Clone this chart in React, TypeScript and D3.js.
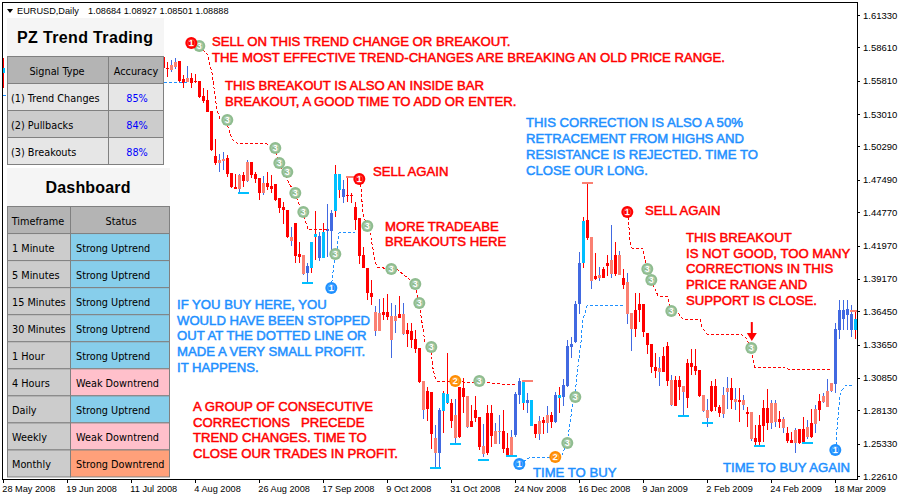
import * as d3 from 'd3';

const WIDTH = 900;
const HEIGHT = 500;

// price axis as printed on the right
const priceTicks = [
  1.6133, 1.5861, 1.5581, 1.5301, 1.5029, 1.4749, 1.4477, 1.4197, 1.3917, 1.3645, 1.3365, 1.3085,
  1.2813, 1.2533, 1.2261,
];

// one date label every 16 bars
const dateTicks = [
  '28 May 2008', '19 Jun 2008', '11 Jul 2008', '4 Aug 2008', '26 Aug 2008', '17 Sep 2008',
  '9 Oct 2008', '31 Oct 2008', '24 Nov 2008', '16 Dec 2008', '9 Jan 2009', '2 Feb 2009',
  '24 Feb 2009', '18 Mar 2009',
];

// bars 1-39 sit behind the panels, only bar 0 peeks out on the left
const barIndex = [0, ...d3.range(40, 214)];

// R down bar in downtrend, S up bar in downtrend, B up bar in uptrend, K down bar in uptrend
const barState =
  'K' +
  'RRSSRRSRRR' + 'RRRRSSRRRS' + 'RSRRRSRRRR' + 'RRSRRSBKKB' + 'KBBKKBRRRR' +
  'RRRSSRRSSR' + 'SRRRRSRRSB' + 'KKRSRRSRRR' + 'SRRSSRRSBB' + 'KBKRSRSRBK' +
  'BBBBBKRSRS' + 'RRSRSRSSRR' + 'RRRRSRRSRR' + 'SRRRRSSRRR' + 'SSRSRSRSRR' +
  'RRSSRSRRSR' + 'RSRSRSSSBB' + 'BBBKKKB';

const barHigh = [
  1.5772,
  1.578, 1.5738, 1.5755, 1.5772, 1.5747, 1.5629, 1.5705, 1.5646, 1.5637, 1.5579,
  1.552, 1.5503, 1.5327, 1.5091, 1.4965, 1.4982, 1.4957, 1.4806, 1.4797, 1.4797,
  1.4814, 1.4915, 1.4898, 1.4814, 1.4764, 1.4781, 1.4814, 1.4789, 1.4713, 1.4596,
  1.4562, 1.4495, 1.4352, 1.4386, 1.4226, 1.4117, 1.405, 1.4226, 1.4487, 1.431,
  1.4386, 1.4545, 1.4495, 1.4873, 1.4797, 1.4747, 1.4772, 1.4638, 1.4562, 1.4428,
  1.4184, 1.4008, 1.3907, 1.3689, 1.3747, 1.3756, 1.3789, 1.3714, 1.3697, 1.3773,
  1.3714, 1.3546, 1.3546, 1.3487, 1.3336, 1.3059, 1.3008, 1.2966, 1.2689, 1.2832,
  1.2975, 1.3294, 1.2907, 1.2907, 1.3008, 1.3084, 1.2933, 1.2857, 1.2933, 1.2756,
  1.2697, 1.2857, 1.2857, 1.2706, 1.2773, 1.2815, 1.2622, 1.2647, 1.2966, 1.3084,
  1.3067, 1.2958, 1.2899, 1.2697, 1.2765, 1.2756, 1.2848, 1.2798, 1.2966, 1.3008,
  1.3075, 1.3403, 1.3428, 1.3731, 1.4142, 1.4436, 1.4722, 1.4268, 1.4134, 1.4016,
  1.4016, 1.4117, 1.4369, 1.4226, 1.4151, 1.3999, 1.3966, 1.363, 1.3798, 1.3798,
  1.3705, 1.3462, 1.3369, 1.3294, 1.326, 1.3344, 1.3386, 1.3109, 1.3101, 1.3101,
  1.3017, 1.3243, 1.3327, 1.3327, 1.3151, 1.2941, 1.2907, 1.3059, 1.3075, 1.2857,
  1.3008, 1.3092, 1.3084, 1.3, 1.3, 1.2941, 1.284, 1.2798, 1.2689, 1.2773,
  1.2899, 1.2991, 1.2899, 1.2899, 1.2807, 1.2756, 1.2672, 1.263, 1.2664, 1.2655,
  1.2756, 1.2731, 1.2823, 1.2857, 1.2949, 1.2958, 1.3075, 1.3042, 1.3546, 1.3739,
  1.3739, 1.3739, 1.3697, 1.3655,
];

const bodyTop = [
  1.5688,
  1.578, 1.5688, 1.5713, 1.5738, 1.5747, 1.5595, 1.5604, 1.5604, 1.5579, 1.5579,
  1.5453, 1.5419, 1.5327, 1.4949, 1.4915, 1.4923, 1.4932, 1.4806, 1.4688, 1.4789,
  1.4789, 1.4898, 1.4898, 1.4797, 1.4764, 1.4722, 1.4722, 1.4697, 1.4713, 1.4596,
  1.452, 1.4495, 1.4268, 1.4386, 1.4125, 1.4117, 1.4025, 1.4226, 1.4293, 1.4277,
  1.431, 1.4335, 1.447, 1.4797, 1.4797, 1.4671, 1.4621, 1.4621, 1.452, 1.4428,
  1.4117, 1.4008, 1.3798, 1.3638, 1.363, 1.3638, 1.3638, 1.3604, 1.3604, 1.3621,
  1.3621, 1.3487, 1.3479, 1.3411, 1.3336, 1.3059, 1.2975, 1.2966, 1.258, 1.2815,
  1.2958, 1.2949, 1.2874, 1.2773, 1.3008, 1.3, 1.2933, 1.2723, 1.2815, 1.2756,
  1.2512, 1.279, 1.279, 1.2639, 1.2639, 1.2639, 1.2496, 1.2588, 1.2949, 1.3059,
  1.3059, 1.2899, 1.2899, 1.2697, 1.2723, 1.2731, 1.2773, 1.2773, 1.2941, 1.2941,
  1.3025, 1.3353, 1.3369, 1.3705, 1.405, 1.4403, 1.4411, 1.4268, 1.3941, 1.3949,
  1.4, 1.405, 1.4075, 1.4117, 1.4117, 1.3924, 1.389, 1.363, 1.3655, 1.3705,
  1.3705, 1.3462, 1.3369, 1.3176, 1.3168, 1.3269, 1.3353, 1.3067, 1.3067, 1.3067,
  1.3017, 1.321, 1.321, 1.3185, 1.3151, 1.2941, 1.2815, 1.3017, 1.3017, 1.284,
  1.2941, 1.3, 1.3, 1.2907, 1.2899, 1.2899, 1.2798, 1.2798, 1.258, 1.2689,
  1.2832, 1.2832, 1.2874, 1.2874, 1.2739, 1.2739, 1.2622, 1.2563, 1.2647, 1.2655,
  1.2655, 1.2672, 1.2706, 1.2823, 1.2891, 1.2933, 1.2975, 1.3042, 1.3495, 1.3655,
  1.3655, 1.3663, 1.3621, 1.358,
];

const bodyBottom = [
  1.5646,
  1.5688, 1.5679, 1.5671, 1.5696, 1.5579, 1.5562, 1.557, 1.5562, 1.557, 1.5444,
  1.5411, 1.5318, 1.4999, 1.489, 1.489, 1.4907, 1.4797, 1.4688, 1.4671, 1.4671,
  1.4739, 1.4739, 1.4789, 1.4755, 1.4638, 1.4638, 1.4688, 1.4671, 1.4579, 1.4512,
  1.4495, 1.4268, 1.4235, 1.4109, 1.41, 1.3957, 1.3966, 1.4008, 1.4268, 1.4092,
  1.4092, 1.4319, 1.4319, 1.4487, 1.4663, 1.4604, 1.4613, 1.4613, 1.4411, 1.4109,
  1.4008, 1.3798, 1.3764, 1.3479, 1.3479, 1.3613, 1.3596, 1.3403, 1.3563, 1.3588,
  1.3453, 1.3453, 1.3403, 1.3327, 1.305, 1.2815, 1.2823, 1.2613, 1.2454, 1.2454,
  1.2807, 1.2874, 1.2723, 1.258, 1.2588, 1.2924, 1.2672, 1.2672, 1.2748, 1.2504,
  1.2445, 1.2454, 1.2597, 1.2529, 1.263, 1.2487, 1.2437, 1.2437, 1.2605, 1.2941,
  1.2874, 1.2874, 1.2681, 1.2613, 1.2613, 1.2706, 1.2706, 1.2714, 1.2714, 1.2916,
  1.2924, 1.3017, 1.3344, 1.3386, 1.3705, 1.405, 1.426, 1.3899, 1.3915, 1.3924,
  1.3924, 1.4025, 1.3957, 1.3957, 1.3949, 1.3865, 1.3621, 1.3495, 1.3495, 1.3655,
  1.347, 1.3361, 1.3176, 1.3143, 1.3134, 1.3134, 1.3059, 1.2857, 1.2849, 1.3008,
  1.2966, 1.2916, 1.3176, 1.3143, 1.2933, 1.2807, 1.2748, 1.2807, 1.284, 1.279,
  1.2781, 1.2966, 1.2899, 1.2882, 1.2882, 1.2857, 1.2781, 1.2571, 1.2546, 1.2546,
  1.2681, 1.2706, 1.2706, 1.2714, 1.2714, 1.2664, 1.2555, 1.2538, 1.2538, 1.2538,
  1.2538, 1.2588, 1.2588, 1.2697, 1.2815, 1.2882, 1.284, 1.2975, 1.3033, 1.3487,
  1.358, 1.3613, 1.3487, 1.3487,
];

const barLow = [
  1.552,
  1.5671, 1.5612, 1.5654, 1.5679, 1.5562, 1.552, 1.557, 1.552, 1.5562, 1.5436,
  1.5394, 1.5318, 1.4991, 1.4873, 1.4814, 1.4831, 1.4772, 1.468, 1.4671, 1.4629,
  1.4688, 1.473, 1.4764, 1.4722, 1.4579, 1.4621, 1.4663, 1.4638, 1.4571, 1.447,
  1.4377, 1.426, 1.4193, 1.405, 1.405, 1.3949, 1.3882, 1.3966, 1.4075, 1.4067,
  1.4092, 1.41, 1.4159, 1.4436, 1.4596, 1.4554, 1.4562, 1.4554, 1.4327, 1.4041,
  1.4008, 1.3739, 1.3697, 1.3437, 1.3479, 1.3571, 1.3571, 1.3252, 1.3462, 1.3588,
  1.3445, 1.3344, 1.3336, 1.3294, 1.3042, 1.2739, 1.2723, 1.2487, 1.2328, 1.2328,
  1.2622, 1.2866, 1.2664, 1.2538, 1.258, 1.279, 1.2664, 1.2672, 1.2714, 1.2479,
  1.242, 1.2437, 1.2504, 1.2529, 1.2529, 1.2454, 1.2429, 1.242, 1.2588, 1.2866,
  1.2815, 1.279, 1.2681, 1.258, 1.2563, 1.2613, 1.2622, 1.2664, 1.2706, 1.279,
  1.2849, 1.3008, 1.3252, 1.3378, 1.3621, 1.4008, 1.4243, 1.3831, 1.3907, 1.3899,
  1.3924, 1.3941, 1.3924, 1.3941, 1.3949, 1.3831, 1.3537, 1.3311, 1.3428, 1.3554,
  1.3428, 1.3285, 1.3126, 1.3084, 1.3017, 1.3134, 1.3017, 1.2849, 1.2849, 1.2899,
  1.2756, 1.2832, 1.3109, 1.3109, 1.2924, 1.2798, 1.2672, 1.2798, 1.2807, 1.2756,
  1.2748, 1.2823, 1.2823, 1.2815, 1.2714, 1.2815, 1.2672, 1.2555, 1.2504, 1.2512,
  1.2546, 1.2647, 1.2655, 1.2672, 1.2664, 1.2622, 1.2538, 1.2538, 1.2454, 1.2529,
  1.2538, 1.2571, 1.258, 1.2622, 1.2723, 1.2874, 1.284, 1.2966, 1.2958, 1.3411,
  1.3487, 1.3487, 1.3428, 1.3411,
];

// the dotted trailing stops, bar positions and prices
const sellStopBarsA = [48.9, 51.2, 51.4, 52.2, 53.4, 54.2, 55.9, 56.2, 57.2, 58.2, 66.4, 67.9, 68.9, 71.4, 72.9, 73.7, 74.9, 75.7, 76.2, 81.4];
const sellStopA = [1.5873, 1.5797, 1.5738, 1.5646, 1.5335, 1.5259, 1.5251, 1.5192, 1.5091, 1.5058, 1.5049, 1.5016, 1.489, 1.4722, 1.4638, 1.4562, 1.4478, 1.4386, 1.4335, 1.4335];
const sellStopBarsB = [89, 89.4, 89.9, 90.9, 91.7, 92.9, 93.4, 96.9, 98.4, 102.9, 103.9, 104.7, 105.4, 106.9, 107.4, 107.9, 108.4, 121.7, 127.9];
const sellStopB = [1.4755, 1.4688, 1.447, 1.4361, 1.4302, 1.4075, 1.4016, 1.3999, 1.3999, 1.3873, 1.3714, 1.3546, 1.3386, 1.3344, 1.3168, 1.3092, 1.3059, 1.3042, 1.3025];
const sellStopBarsC = [155.9, 156.2, 156.7, 157.2, 159.9, 160.4, 160.9, 161.9, 163.7, 166.2, 166.9, 168.7, 169.9, 174.2, 174.7, 175.9, 184.9, 185.7, 186.9, 187.4, 187.9, 195.4, 196.2, 206.7];
const sellStopC = [1.4478, 1.4436, 1.4226, 1.4176, 1.4176, 1.4075, 1.3999, 1.3907, 1.3773, 1.3764, 1.3647, 1.363, 1.3579, 1.3579, 1.3512, 1.3453, 1.3445, 1.342, 1.3336, 1.326, 1.3176, 1.3176, 1.3159, 1.3159];

const buyStopBarsA = [0, 1];
const buyStopA = [1.5453, 1.5453];
const buyStopBarsB = [40.2, 46];
const buyStopB = [1.557, 1.557];
const buyStopBarsC = [81.9, 82.2, 82.7, 82.9, 83.4, 83.9, 87.9];
const buyStopC = [1.384, 1.3907, 1.405, 1.4125, 1.4159, 1.4302, 1.431];
const buyStopBarsD = [128.9, 130.7, 131.7, 136.7, 137.9, 139.7, 140.9, 141.7, 142.4, 142.9, 143.7, 144.4, 144.9, 145.9, 154.9];
const buyStopD = [1.2361, 1.2395, 1.242, 1.242, 1.242, 1.2437, 1.2538, 1.2706, 1.2899, 1.2941, 1.3193, 1.3378, 1.3571, 1.3689, 1.3689];
const buyStopBarsE = [207.9, 208.2, 208.4, 209.2, 209.7, 210.4, 212.4];
const buyStopE = [1.2479, 1.2521, 1.2647, 1.2941, 1.2983, 1.3017, 1.3017];

// numbered signals
const breakoutBars = [49, 56, 68, 69, 71, 73, 75, 83, 91, 97, 103, 104, 107, 119, 141, 143, 161, 162, 167, 187];
const breakoutPrices = [1.5873, 1.5251, 1.5016, 1.489, 1.4814, 1.4638, 1.4478, 1.4125, 1.4361, 1.3999, 1.3873, 1.3714, 1.3344, 1.3059, 1.2538, 1.2924, 1.3999, 1.3907, 1.3647, 1.3336];
const pullbackBars = [113, 138];
const pullbackPrices = [1.3059, 1.242];
const buySignalBars = [82, 129, 208];
const buySignalPrices = [1.384, 1.2361, 1.2479];
const sellSignalBars = [47, 89, 156];
const sellSignalPrices = [1.5898, 1.4755, 1.4478];

// little caps at swing lows and highs
const lowCapBars = [60, 76, 108, 113, 120, 127, 170, 176, 189, 201];
const lowCapPrices = [1.4638, 1.3882, 1.2328, 1.2529, 1.2395, 1.2429, 1.2765, 1.2706, 1.2512, 1.2538];
const highCapBars = [87, 131, 146, 213];
const highCapPrices = [1.4772, 1.3059, 1.4722, 1.3647];

const signalTypes = ['(1) Trend Changes', '(2) Pullbacks', '(3) Breakouts'];
const signalAccuracy = ['85%', '84%', '88%'];
const timeframes = ['1 Minute', '5 Minutes', '15 Minutes', '30 Minutes', '1 Hour', '4 Hours', 'Daily', 'Weekly', 'Monthly'];
const timeframeStatus = [
  'Strong Uptrend', 'Strong Uptrend', 'Strong Uptrend', 'Strong Uptrend', 'Strong Uptrend',
  'Weak Downtrend', 'Strong Uptrend', 'Weak Downtrend', 'Strong Downtrend',
];

const RED = '#ff0000';
const SALMON = '#fa8072';
const ROYAL = '#4169e1';
const SKY = '#00bfff';
const NOTE_BLUE = '#1e90ff';
const GREEN = '#8fbc8f';
const ORANGE = '#ff8c00';
const GRID = '#808080';

const bodyColor: Record<string, string> = { R: RED, S: SALMON, B: ROYAL, K: SKY };
const wickColor: Record<string, string> = { R: RED, S: ROYAL, B: ROYAL, K: RED };
const statusColor: Record<string, string> = {
  'Strong Uptrend': '#87ceeb',
  'Weak Downtrend': '#ffc0cb',
  'Strong Downtrend': '#ffa07a',
};

const UI_FONT = '"DejaVu Sans Condensed", "DejaVu Sans", sans-serif';
const AXIS_FONT = '"Liberation Sans", sans-serif';

const x = d3.scaleLinear().domain([0, 213]).range([3.3, 855.3]);
const y = d3.scaleLinear().domain([1.2261, 1.6133]).range([476, 15]);

const stopPath = (bars: number[], prices: number[]) =>
  d3.line<number>()
    .x((b) => x(b))
    .y((_, i) => y(prices[i]))(bars) ?? '';

const Note = ({ left, top, color, lines, gap = 15.7 }: { left: number; top: number; color: string; lines: string[]; gap?: number }) => (
  <g fontFamily={AXIS_FONT} fontSize={13.15} fill={color} stroke={color} strokeWidth={0.5}>
    {lines.map((line, i) => (
      <text key={i} x={left} y={top + i * gap} style={{ whiteSpace: 'pre' }}>
        {line}
      </text>
    ))}
  </g>
);

const Signal = ({ bar, price, color, label }: { bar: number; price: number; color: string; label: string }) => (
  <g transform={`translate(${x(bar)},${y(price)})`}>
    <circle r={6} fill={color} />
    <circle r={3.6} fill="none" stroke="#fff" strokeWidth={0.5} opacity={0.5} />
    <text textAnchor="middle" y={3.3} fontSize={9} fontWeight="bold" fontFamily={AXIS_FONT} fill="#fff">
      {label}
    </text>
  </g>
);

const Cell = ({ x0, y0, w, h, fill }: { x0: number; y0: number; w: number; h: number; fill: string }) => (
  <rect x={x0 + 0.5} y={y0 + 0.5} width={w} height={h} fill={fill} stroke={GRID} strokeWidth={1} />
);

const SignalPanel = () => {
  const rowY = d3.scaleLinear().domain([0, 4]).range([56, 164]);
  return (
    <g fontFamily={UI_FONT} fontSize={10.8} fill="#000">
      <rect x={7} y={18} width={157} height={38} fill="#f5f5f5" />
      <text x={85} y={43} textAnchor="middle" fontFamily={AXIS_FONT} fontWeight="bold" fontSize={16} textLength={136} lengthAdjust="spacing">
        PZ Trend Trading
      </text>
      <Cell x0={7} y0={rowY(0)} w={101} h={27} fill="#b4b4b4" />
      <Cell x0={108} y0={rowY(0)} w={55} h={27} fill="#b4b4b4" />
      <text x={57} y={rowY(0) + 18.5} textAnchor="middle">Signal Type</text>
      <text x={136} y={rowY(0) + 18.5} textAnchor="middle">Accuracy</text>
      {signalTypes.map((name, i) => {
        const fill = i % 2 === 0 ? '#e6e6e6' : '#cccccc';
        const top = rowY(i + 1);
        return (
          <g key={name}>
            <Cell x0={7} y0={top} w={101} h={27} fill={fill} />
            <Cell x0={108} y0={top} w={55} h={27} fill={fill} />
            <text x={11} y={top + 18.5}>{name}</text>
            <text x={137} y={top + 18.5} textAnchor="middle" fill="#0000ff">{signalAccuracy[i]}</text>
          </g>
        );
      })}
    </g>
  );
};

const DashboardPanel = () => {
  const rowY = d3.scaleLinear().domain([0, 10]).range([206, 476.5]);
  return (
    <g fontFamily={UI_FONT} fontSize={10.8} fill="#000">
      <rect x={7} y={168} width={163} height={38} fill="#f5f5f5" />
      <text x={88} y={193} textAnchor="middle" fontFamily={AXIS_FONT} fontWeight="bold" fontSize={16} textLength={85} lengthAdjust="spacing">
        Dashboard
      </text>
      <Cell x0={7} y0={rowY(0)} w={63} h={27} fill="#b4b4b4" />
      <Cell x0={70} y0={rowY(0)} w={99} h={27} fill="#b4b4b4" />
      <text x={38} y={rowY(0) + 18.5} textAnchor="middle">Timeframe</text>
      <text x={121} y={rowY(0) + 18.5} textAnchor="middle">Status</text>
      {timeframes.map((name, i) => {
        const top = rowY(i + 1);
        return (
          <g key={name}>
            <Cell x0={7} y0={top} w={63} h={27} fill="#cccccc" />
            <Cell x0={70} y0={top} w={99} h={27} fill={statusColor[timeframeStatus[i]]} />
            <text x={12} y={top + 18.5}>{name}</text>
            <text x={76} y={top + 18.5}>{timeframeStatus[i]}</text>
          </g>
        );
      })}
    </g>
  );
};

export default function App() {
  return (
    <svg
      width={WIDTH}
      height={HEIGHT}
      viewBox={`0 0 ${WIDTH} ${HEIGHT}`}
      style={{ position: 'fixed', left: 0, top: 0, background: '#fff' }}
    >
      <defs>
        <clipPath id="plot">
          <rect x={3} y={3} width={854} height={476} />
        </clipPath>
      </defs>

      <g clipPath="url(#plot)" shapeRendering="crispEdges">
        {barIndex.map((bar, i) => {
          const state = barState[i];
          const cx = Math.floor(x(bar));
          const bodyH = Math.max(1, y(bodyBottom[i]) - y(bodyTop[i]));
          return (
            <g key={bar}>
              <rect x={cx} y={y(barHigh[i])} width={1} height={y(barLow[i]) - y(barHigh[i])} fill={wickColor[state]} />
              <rect x={cx - 1} y={y(bodyTop[i])} width={3} height={bodyH} fill={bodyColor[state]} />
            </g>
          );
        })}
        {lowCapBars.map((bar, i) => (
          <rect key={bar} x={Math.floor(x(bar)) - 5} y={y(lowCapPrices[i]) - 1} width={11} height={2} fill={SKY} />
        ))}
        {highCapBars.map((bar, i) => (
          <rect key={bar} x={Math.floor(x(bar)) - 5} y={y(highCapPrices[i]) - 1} width={11} height={2} fill={SALMON} />
        ))}
      </g>

      <g clipPath="url(#plot)" fill="none" strokeWidth={1} strokeDasharray="3 2" shapeRendering="crispEdges">
        <path d={stopPath(sellStopBarsA, sellStopA)} stroke={RED} />
        <path d={stopPath(sellStopBarsB, sellStopB)} stroke={RED} />
        <path d={stopPath(sellStopBarsC, sellStopC)} stroke={RED} />
        <path d={stopPath(buyStopBarsA, buyStopA)} stroke={NOTE_BLUE} />
        <path d={stopPath(buyStopBarsB, buyStopB)} stroke={NOTE_BLUE} />
        <path d={stopPath(buyStopBarsC, buyStopC)} stroke={NOTE_BLUE} />
        <path d={stopPath(buyStopBarsD, buyStopD)} stroke={NOTE_BLUE} />
        <path d={stopPath(buyStopBarsE, buyStopE)} stroke={NOTE_BLUE} />
      </g>

      {breakoutBars.map((bar, i) => (
        <Signal key={bar} bar={bar} price={breakoutPrices[i]} color={GREEN} label="3" />
      ))}
      {pullbackBars.map((bar, i) => (
        <Signal key={bar} bar={bar} price={pullbackPrices[i]} color={ORANGE} label="2" />
      ))}
      {buySignalBars.map((bar, i) => (
        <Signal key={bar} bar={bar} price={buySignalPrices[i]} color={NOTE_BLUE} label="1" />
      ))}
      {sellSignalBars.map((bar, i) => (
        <Signal key={bar} bar={bar} price={sellSignalPrices[i]} color={RED} label="1" />
      ))}

      {/* arrow pointing at the weak breakout */}
      <g fill={RED}>
        <rect x={x(187) - 0.5} y={y(1.3554)} width={2} height={y(1.3445) - y(1.3554)} />
        <path d={`M${x(187) - 4.5},${y(1.3462)} L${x(187) + 5.5},${y(1.3462)} L${x(187) + 0.5},${y(1.3395)} Z`} />
      </g>

      <SignalPanel />
      <DashboardPanel />

      {/* chart frame */}
      <g fill="none" stroke="#000" strokeWidth={1} shapeRendering="crispEdges">
        <path d="M2.5,479.5 V2.5 H857.5 V479.5 Z" />
      </g>

      <g fontFamily={AXIS_FONT} fontSize={9.2} fill="#000">
        <path d="M7,9 h6 l-3,4 Z" fill="#000" />
        <text x={17} y={14}>EURUSD,Daily</text>
        <text x={88} y={14}>1.08684 1.08927 1.08501 1.08888</text>

        {priceTicks.map((tick) => (
          <g key={tick}>
            <rect x={858} y={Math.round(y(tick))} width={2} height={1} fill="#000" />
            <text x={863} y={y(tick) + 3.5} fontSize={9.5}>{tick.toFixed(5)}</text>
          </g>
        ))}

        {dateTicks.map((label, i) => (
          <g key={label}>
            <rect x={Math.floor(x(i * 16))} y={480} width={1} height={3} fill="#000" />
            <text x={x(i * 16) - 1} y={492}>{label}</text>
          </g>
        ))}
      </g>

      <Note left={212} top={46} color={RED} lines={['SELL ON THIS TREND CHANGE OR BREAKOUT.', 'THE MOST EFFECTIVE TREND-CHANGES ARE BREAKING AN OLD PRICE RANGE.']} gap={16} />
      <Note left={225} top={90} color={RED} lines={['THIS BREAKOUT IS ALSO AN INSIDE BAR', 'BREAKOUT, A GOOD TIME TO ADD OR ENTER.']} gap={16} />
      <Note left={526} top={127} color={NOTE_BLUE} lines={['THIS CORRECTION IS ALSO A 50%', 'RETRACEMENT FROM HIGHS AND', 'RESISTANCE IS REJECTED. TIME TO', 'CLOSE OUR LONG.']} gap={16} />
      <Note left={373} top={176} color={RED} lines={['SELL AGAIN']} />
      <Note left={385} top={231} color={RED} lines={['MORE TRADEABE', 'BREAKOUTS HERE']} gap={15} />
      <Note left={645} top={215} color={RED} lines={['SELL AGAIN']} />
      <Note left={686} top={242} color={RED} lines={['THIS BREAKOUT', 'IS NOT GOOD, TOO MANY', 'CORRECTIONS IN THIS', 'PRICE RANGE AND', 'SUPPORT IS CLOSE.']} />
      <Note left={177} top={309} color={NOTE_BLUE} lines={['IF YOU BUY HERE, YOU', 'WOULD HAVE BEEN STOPPED', 'OUT AT THE DOTTED LINE OR', 'MADE A VERY SMALL PROFIT.', 'IT HAPPENS.']} />
      <Note left={193} top={411} color={RED} lines={['A GROUP OF CONSECUTIVE', 'CORRECTIONS   PRECEDE', 'TREND CHANGES. TIME TO', 'CLOSE OUR TRADES IN PROFIT.']} />
      <Note left={533} top={477} color={NOTE_BLUE} lines={['TIME TO BUY']} />
      <Note left={723} top={472} color={NOTE_BLUE} lines={['TIME TO BUY AGAIN']} />
    </svg>
  );
}
